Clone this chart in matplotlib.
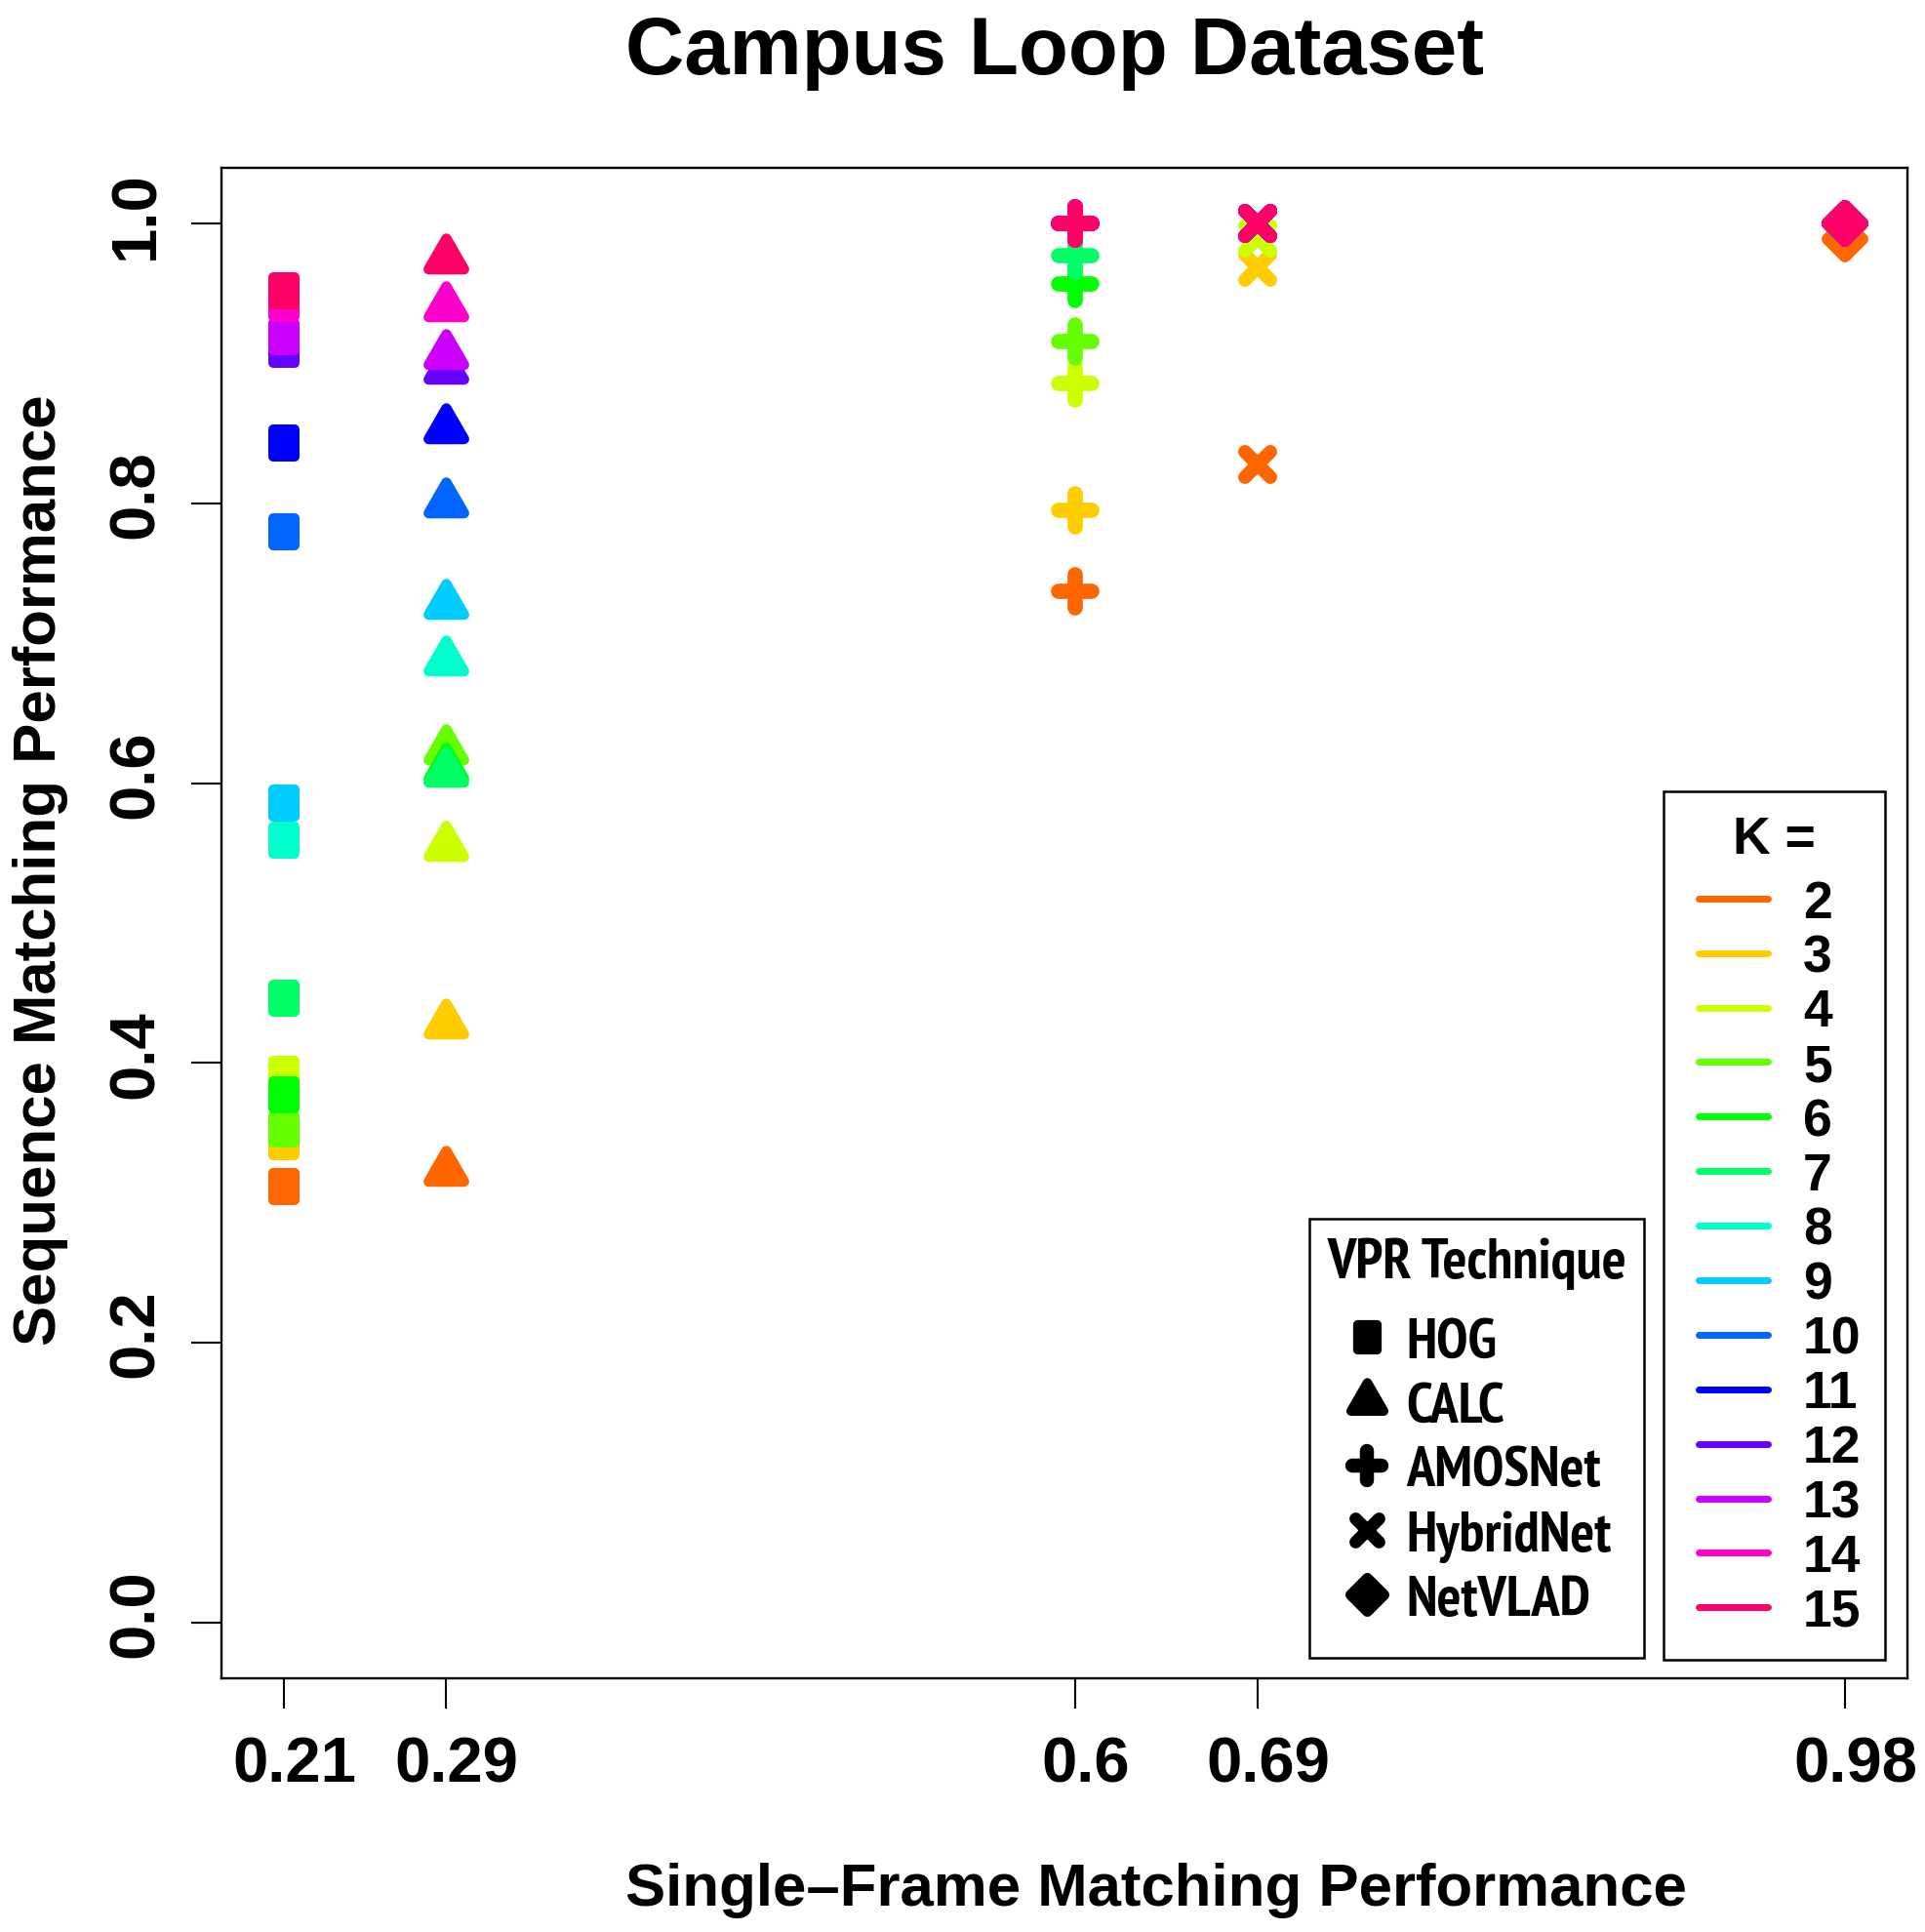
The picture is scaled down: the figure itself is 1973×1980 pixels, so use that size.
import matplotlib
matplotlib.use("Agg")
import matplotlib.pyplot as plt
from matplotlib.lines import Line2D
from matplotlib.markers import MarkerStyle
from matplotlib.path import Path
from matplotlib.font_manager import FontProperties
from matplotlib.legend_handler import HandlerLine2D
from matplotlib.transforms import ScaledTranslation

# single-frame matching performance of each technique (x axis)
techniques = ["HOG", "CALC", "AMOSNet", "HybridNet", "NetVLAD"]
single_frame = [0.21, 0.29, 0.60, 0.69, 0.98]
x_tick_labels = ["0.21", "0.29", "0.6", "0.69", "0.98"]
k_values = list(range(2, 16))

# sequence matching performance for K = 2..15
hog = [0.312, 0.344, 0.392, 0.353, 0.377, 0.446, 0.559, 0.586, 0.780, 0.843, 0.910, 0.919, 0.943, 0.952]
calc = [0.323, 0.428, 0.555, 0.624, 0.611, 0.608, 0.688, 0.728, 0.801, 0.854, 0.896, 0.907, 0.941, 0.975]
amosnet = [0.737, 0.795, 0.886, 0.916, 0.957, 0.977, 1.0, 1.0, 1.0, 1.0, 1.0, 1.0, 1.0, 1.0]
hybridnet = [0.828, 0.969, 0.990, 1.0, 1.0, 1.0, 1.0, 1.0, 1.0, 1.0, 1.0, 1.0, 1.0, 1.0]
netvlad = [0.989, 1.0, 1.0, 1.0, 1.0, 1.0, 1.0, 1.0, 1.0, 1.0, 1.0, 1.0, 1.0, 1.0]
seq_perf = [hog, calc, amosnet, hybridnet, netvlad]

# R rainbow(15), first colour (red) unused
k_colors = ["#FF6600", "#FFCC00", "#CCFF00", "#66FF00", "#00FF00", "#00FF66", "#00FFCC",
            "#00CCFF", "#0066FF", "#0000FF", "#6600FF", "#CC00FF", "#FF00CC", "#FF0066"]

plt.rcParams["font.family"] = ["Liberation Sans", "DejaVu Sans"]
plt.rcParams["font.weight"] = "bold"
NARROW = ["PT Sans Narrow", "DejaVu Sans"]

# marker shapes (R pch-like, rounded)
rect = Path([(-0.39, -0.5), (0.39, -0.5), (0.39, 0.5), (-0.39, 0.5), (-0.39, -0.5)],
            [Path.MOVETO, Path.LINETO, Path.LINETO, Path.LINETO, Path.CLOSEPOLY])
styles = {
    "HOG": (MarkerStyle(rect, joinstyle="round"), 20.2, 7.2),
    "CALC": (MarkerStyle((3, 0, 0), joinstyle="round"), 30.2, 7.6),
    "AMOSNet": (MarkerStyle("+", capstyle="round"), 24.0, 11.3),
    "HybridNet": (MarkerStyle("x", capstyle="round"), 18.5, 10.0),
    "NetVLAD": (MarkerStyle("D", joinstyle="round"), 18.7, 8.6),
}

fig = plt.figure(figsize=(19.74, 19.81), dpi=100)
ax = fig.add_axes([0.115, 0.1312, 0.8755, 0.7815])

for tech, x, ys in zip(techniques, single_frame, seq_perf):
    m, ms, mew = styles[tech]
    for y, c in zip(ys, k_colors):
        ax.plot(x, y, ls="none", marker=m, color=c, mec=c, ms=ms, mew=mew)

ax.set_xlim(0.1792, 1.0108)
ax.set_ylim(-0.04, 1.04)
ax.set_xticks(single_frame)
ax.set_xticklabels(x_tick_labels)
y_ticks = [0.0, 0.2, 0.4, 0.6, 0.8, 1.0]
ax.set_yticks(y_ticks)
ax.set_yticklabels([f"{v:.1f}" for v in y_ticks])
ax.tick_params(axis="both", direction="out", length=22, width=1.5, labelsize=47)
ax.tick_params(axis="x", pad=20)
ax.tick_params(axis="y", pad=19)
# R places the tick labels a little off-centre
for lab in ax.get_xticklabels():
    lab.set_transform(lab.get_transform() + ScaledTranslation(0.11, 0, fig.dpi_scale_trans))
for lab in ax.get_yticklabels():
    lab.set_rotation(90)
    lab.set_va("center")
    lab.set_transform(lab.get_transform() + ScaledTranslation(0, 0.10, fig.dpi_scale_trans))
for sp in ax.spines.values():
    sp.set_linewidth(1.7)

ax.set_xlabel("Single\u2013Frame Matching Performance", fontsize=44.5, fontweight="bold")
ax.xaxis.set_label_coords(0.554, -0.1499)
ax.xaxis.label.set_va("baseline")
ax.set_ylabel("Sequence Matching Performance", fontsize=44.5, fontweight="bold",
              rotation_mode="anchor")
ax.yaxis.set_label_coords(-0.0984, 0.536)
ax.yaxis.label.set_va("baseline")
ax.yaxis.label.set_ha("center")

fig.text(1081 / 1974, 1 - 76 / 1981, "Campus Loop Dataset", fontsize=60,
         fontweight="bold", ha="center", va="baseline")

# legend: VPR technique markers
tech_handles = [Line2D([], [], ls="none", marker=styles[t][0], color="black", mec="black",
                       ms=styles[t][1] * 0.92, mew=styles[t][2] * 0.92) for t in techniques]
narrow_bold = FontProperties(family=NARROW, weight="bold", size=42)
leg1 = ax.legend(tech_handles, techniques, loc="lower left", bbox_to_anchor=(0.645, 0.0136),
                 borderaxespad=0, prop=narrow_bold, title="VPR Technique",
                 title_fontproperties=narrow_bold,
                 handlelength=0.88, handletextpad=0.246, labelspacing=0.221, borderpad=0.317,
                 fancybox=False, framealpha=1, edgecolor="black")
leg1.get_frame().set_linewidth(1.8)
leg1._legend_handle_box.pad = 10
leg1._legend_box.sep = 10.4
ax.add_artist(leg1)

# legend: K colours
k_handles = [Line2D([], [], color=c, lw=5, solid_capstyle="round") for c in k_colors]
k_font = FontProperties(family=["Liberation Sans"], weight="bold", size=38.5)
leg2 = ax.legend(k_handles, [str(k) for k in k_values], loc="lower left",
                 bbox_to_anchor=(0.855, 0.0123), borderaxespad=0, prop=k_font,
                 title="K =", title_fontproperties=k_font,
                 handler_map={Line2D: HandlerLine2D(xpad=0.23)},
                 handlelength=1.56, handletextpad=0.67, labelspacing=0.11, borderpad=0.45,
                 fancybox=False, framealpha=1, edgecolor="black")
leg2.get_frame().set_linewidth(1.8)
leg2._legend_box.sep = 11

fig.savefig("out.png", dpi=100)
